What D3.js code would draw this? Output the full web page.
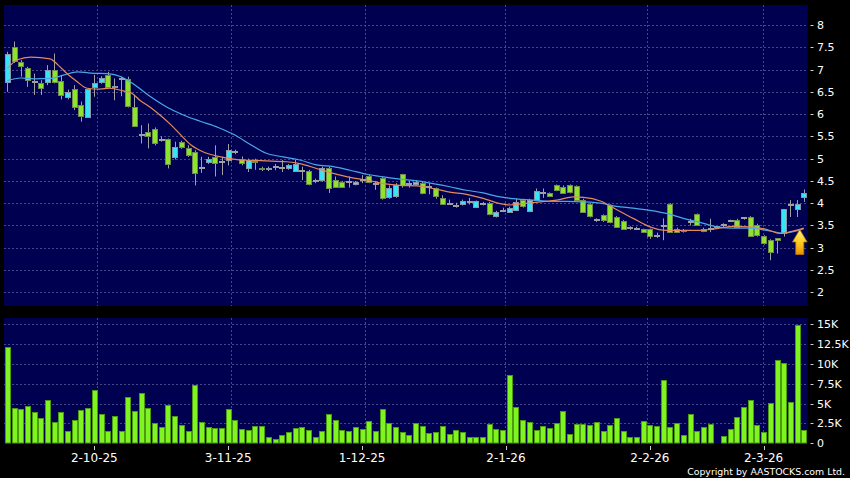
<!DOCTYPE html>
<html><head><meta charset="utf-8">
<script src="https://cdn.jsdelivr.net/npm/d3@7"></script>
<style>
html,body{margin:0;padding:0;background:#000;}
svg{display:block;}
text{font-family:"DejaVu Sans",sans-serif;fill:#fff;}
</style></head><body>
<svg id="c" width="850" height="478"></svg>
<script>
// ---- data ----
const opens  = [6.72,7.50,7.18,7.03,6.71,6.69,6.71,6.99,6.75,6.39,6.56,6.20,5.94,6.60,6.72,6.88,6.60,6.79,6.78,6.16,
5.53,5.60,5.66,5.42,5.43,5.03,5.38,5.25,5.14,4.78,4.93,5.04,4.93,4.98,5.14,5.00,4.80,4.95,4.79,4.76,
4.82,4.80,4.78,4.73,4.72,4.72,4.50,4.52,4.78,4.52,4.48,4.47,4.43,4.53,4.61,4.44,4.57,4.13,4.16,4.65,
4.42,4.43,4.46,4.37,4.33,4.11,3.99,3.94,3.98,4.03,3.92,3.99,4.01,3.71,3.83,3.80,3.84,4.08,3.83,4.08,
4.22,4.22,4.40,4.37,4.40,4.38,4.07,3.98,3.62,3.73,3.95,3.69,3.60,3.44,3.43,3.41,3.41,3.26,3.48,3.99,
3.43,3.40,3.58,3.75,3.43,3.43,3.46,3.50,3.61,3.63,3.66,3.69,3.52,3.26,3.17,3.21,3.32,3.96,3.88,4.13];
const highs  = [7.40,7.63,7.21,7.06,6.91,6.76,7.10,7.36,6.88,6.55,6.65,6.28,6.58,6.88,6.85,6.95,6.80,6.84,6.84,6.43,
5.75,5.79,5.70,5.50,5.45,5.38,5.40,5.30,5.19,5.04,5.04,5.30,5.04,5.33,5.20,5.05,5.00,5.00,4.82,4.82,
4.88,4.97,4.88,4.97,4.82,4.75,4.55,4.82,4.82,4.60,4.50,4.60,4.50,4.63,4.63,4.50,4.60,4.40,4.45,4.66,
4.50,4.52,4.48,4.45,4.35,4.18,4.08,4.01,4.08,4.12,4.06,4.03,4.03,3.83,3.90,3.92,4.10,4.10,4.10,4.33,
4.33,4.24,4.42,4.40,4.42,4.40,4.10,4.00,3.66,3.75,3.97,3.71,3.62,3.48,3.47,3.43,3.43,3.34,3.66,4.00,
3.45,3.42,3.65,3.77,3.45,3.65,3.48,3.55,3.63,3.65,3.68,3.71,3.54,3.28,3.19,3.22,3.87,4.07,4.07,4.31];
const lows   = [6.50,7.15,6.84,6.61,6.43,6.43,6.65,6.69,6.33,6.33,6.09,5.83,5.94,6.39,6.68,6.58,6.31,6.40,6.15,5.72,
5.34,5.23,5.30,5.38,4.78,4.98,5.22,5.04,4.40,4.68,4.88,4.60,4.63,4.85,5.10,4.85,4.70,4.75,4.72,4.72,
4.74,4.70,4.75,4.70,4.52,4.40,4.45,4.48,4.23,4.35,4.35,4.35,4.40,4.45,4.45,4.30,4.08,4.10,4.12,4.35,
4.35,4.40,4.20,4.20,4.10,3.96,3.96,3.90,3.95,3.97,3.90,3.95,3.73,3.68,3.80,3.78,3.82,3.90,3.80,4.05,
4.12,4.14,4.27,4.22,4.22,4.05,3.78,3.68,3.58,3.58,3.55,3.45,3.40,3.40,3.40,3.33,3.20,3.22,3.17,3.34,
3.33,3.34,3.50,3.50,3.35,3.35,3.44,3.45,3.58,3.45,3.63,3.24,3.25,3.07,2.72,2.87,3.25,3.69,3.69,4.03];
const closes = [7.34,7.20,7.08,6.76,6.71,6.59,6.99,6.73,6.43,6.50,6.15,5.96,6.56,6.70,6.82,6.60,6.64,6.79,6.18,5.74,
5.53,5.51,5.36,5.42,4.88,5.27,5.27,5.08,4.67,4.78,5.00,4.91,4.93,5.19,5.14,4.91,4.97,4.92,4.76,4.79,
4.82,4.80,4.85,4.88,4.72,4.42,4.50,4.79,4.35,4.37,4.37,4.47,4.48,4.53,4.48,4.44,4.11,4.35,4.40,4.40,
4.42,4.48,4.23,4.37,4.16,3.99,3.99,3.94,4.06,4.03,4.04,3.99,3.75,3.80,3.83,3.90,4.03,3.93,4.08,4.27,
4.22,4.16,4.29,4.24,4.25,4.07,3.80,3.71,3.62,3.62,3.57,3.47,3.43,3.44,3.43,3.36,3.26,3.26,3.48,3.36,
3.36,3.37,3.58,3.52,3.38,3.43,3.46,3.50,3.61,3.47,3.66,3.26,3.28,3.10,2.91,3.17,3.86,3.96,3.99,4.24];
// volume in thousands of shares
const volumes = [12.2,4.45,4.3,4.7,3.95,3.2,5.5,2.65,4.0,1.6,2.9,4.15,4.5,6.7,3.7,1.6,3.5,1.6,5.8,4.1,
6.4,4.45,2.6,2.0,4.8,3.4,2.35,1.5,7.4,2.65,2.05,1.9,1.9,4.3,2.9,1.75,1.65,2.15,2.15,0.8,
0.6,1.05,1.45,1.9,2.05,1.65,0.8,1.55,3.65,2.9,1.65,1.55,2.05,1.8,2.85,1.6,4.3,2.55,2.05,1.45,
1.1,2.5,2.2,1.35,1.45,2.2,1.2,1.7,1.4,0.8,0.8,0.8,2.45,1.8,1.7,8.6,4.6,3.0,2.7,1.7,
2.2,1.9,2.55,4.1,1.2,2.4,2.45,2.35,2.7,1.55,2.35,3.2,1.55,0.85,0.85,2.8,2.35,2.2,8.0,2.0,
2.6,1.0,3.7,1.55,2.05,2.45,0.1,0.9,1.75,3.3,4.6,5.5,2.3,1.4,5.1,10.5,10.1,5.15,14.9,1.65];
// moving averages: [candle index, value]
const maShort = [[0,7.02],[1.5,7.22],[3.5,7.28],[6.4,7.24],[7.6,7.10],[8.9,6.91],[10.4,6.73],[11.9,6.58],[13.8,6.56],[15.3,6.58],
[17.3,6.52],[18.6,6.47],[19.8,6.31],[21.3,6.16],[22.8,5.98],[24.3,5.78],[25.8,5.55],[27.5,5.30],[29.3,5.15],[31.5,5.05],
[34.3,4.98],[36.8,4.96],[38.7,4.95],[41.7,4.93],[43.7,4.89],[46.2,4.78],[48.7,4.67],[51.2,4.58],[53.7,4.52],[56.2,4.44],
[58.7,4.40],[61.2,4.39],[63.6,4.33],[66.1,4.25],[68.6,4.20],[71.1,4.11],[73.6,3.99],[75.1,3.96],[77.1,3.99],[79.6,4.03],
[82.1,4.07],[84.6,4.14],[86.1,4.13],[88.6,4.05],[91,3.86],[93.5,3.66],[96,3.47],[98.5,3.39],[101,3.39],[103.5,3.39],
[106,3.43],[108.5,3.48],[111,3.47],[113.5,3.41],[115.4,3.32],[117,3.36],[119,3.44]];
const maLong = [[0,6.75],[2,6.81],[4,6.79],[6.5,6.80],[8.5,6.88],[10.5,6.95],[12.5,6.92],[15,6.91],[17,6.84],[18.8,6.68],
[21.3,6.40],[23.8,6.16],[26.3,5.98],[28.8,5.84],[31.5,5.70],[34,5.53],[36.3,5.32],[38.7,5.12],[41.2,5.04],[43.7,4.97],
[46.2,4.86],[48.7,4.82],[51.2,4.74],[53.7,4.65],[56.2,4.59],[58.7,4.54],[61.2,4.50],[63.6,4.44],[66.1,4.37],[68.6,4.29],
[71.1,4.23],[73.6,4.14],[75.1,4.11],[78.6,4.07],[81.1,4.04],[83.6,4.04],[86.1,4.03],[88.6,4.00],[91,3.93],[93.5,3.89],
[96,3.84],[98.5,3.77],[101,3.66],[103.5,3.57],[106,3.47],[108.5,3.44],[111,3.44],[113.5,3.39],[116,3.33],[119,3.43]];
const priceTicks = [2,2.5,3,3.5,4,4.5,5,5.5,6,6.5,7,7.5,8];
const priceTickLabels = ["2","2.5","3","3.5","4","4.5","5","5.5","6","6.5","7","7.5","8"];
const volumeTicks = [0,2.5,5,7.5,10,12.5,15];
const volumeTickLabels = ["0","2.5K","5K","7.5K","10K","12.5K","15K"];
const dateTickIndex = [13,33,53,74.5,96,113];
const gridIndex = [13.4,33.4,53.5,74.4,95.6,112.9];
const dateTickLabels = ["2-10-25","3-11-25","1-12-25","2-1-26","2-2-26","2-3-26"];
const arrowMark = {i:118.4, top:3.41, bottom:2.85};
const copyright = "Copyright by AASTOCKS.com Ltd.";

// ---- layout ----
const W = 850, H = 478;
const panel = {left:4, right:807.7};
const pricePanel = {top:5, bottom:306};
const volPanel = {top:318, bottom:443.3};
const NAVY = "#000050", GRID = "#46468a";

const svg = d3.select("#c");
svg.append("rect").attr("width",W).attr("height",H).attr("fill","#000");

const x = d3.scaleLinear().domain([0, closes.length-1]).range([7.33, 803.8]);
const y = d3.scaleLinear().domain([2, 8]).range([292.3, 25]);
const yv = d3.scaleLinear().domain([0, 15]).range([volPanel.bottom, 324.3]);

// panels
svg.append("rect").attr("x",panel.left).attr("y",pricePanel.top).attr("width",panel.right-panel.left)
  .attr("height",pricePanel.bottom-pricePanel.top).attr("fill",NAVY);
svg.append("rect").attr("x",panel.left).attr("y",volPanel.top).attr("width",panel.right-panel.left)
  .attr("height",volPanel.bottom-volPanel.top).attr("fill",NAVY);

const crisp = v => Math.round(v) + 0.5;

// gridlines
const g = svg.append("g").attr("stroke",GRID).attr("stroke-width",1).attr("stroke-dasharray","2,2").attr("fill","none");
g.selectAll(".hp").data(priceTicks).enter().append("line")
  .attr("x1",panel.left).attr("x2",panel.right).attr("y1",d=>crisp(y(d))).attr("y2",d=>crisp(y(d)));
g.selectAll(".hv").data(volumeTicks.slice(1)).enter().append("line")
  .attr("x1",panel.left).attr("x2",panel.right).attr("y1",d=>crisp(yv(d))).attr("y2",d=>crisp(yv(d)));
g.selectAll(".vp").data(gridIndex).enter().append("line")
  .attr("x1",d=>crisp(x(d))).attr("x2",d=>crisp(x(d))).attr("y1",pricePanel.top).attr("y2",pricePanel.bottom);
g.selectAll(".vv").data(gridIndex).enter().append("line")
  .attr("x1",d=>crisp(x(d))).attr("x2",d=>crisp(x(d))).attr("y1",volPanel.top).attr("y2",volPanel.bottom);

// volume bars
svg.append("g").selectAll("rect").data(volumes).enter().append("rect")
  .attr("x",(d,i)=>Math.round(x(i)-2.5)+0.5)
  .attr("width",5)
  .attr("y",d=>Math.round(yv(d))+0.5)
  .attr("height",d=>Math.max(0, Math.round(volPanel.bottom) - Math.round(yv(d)) - 0.5))
  .attr("fill","#80f41e").attr("stroke","#4b9a14").attr("stroke-width",1);

// candles
const candles = closes.map((c,i)=>({i, o:opens[i], h:highs[i], l:lows[i], c}));
const isDoji = d => Math.abs(d.o-d.c) < 0.02;
const cg = svg.append("g");
cg.selectAll(".wick").data(candles).enter().append("line")
  .attr("x1",d=>crisp(x(d.i))).attr("x2",d=>crisp(x(d.i)))
  .attr("y1",d=>y(d.h)).attr("y2",d=>y(d.l))
  .attr("stroke","#a0a0a0").attr("stroke-width",1);
cg.selectAll(".body").data(candles).enter().append("rect")
  .attr("x",d=>Math.round(x(d.i)-2.5)+0.5)
  .attr("width",5)
  .attr("y",d=>{
    const top = Math.round(y(Math.max(d.o,d.c)));
    return top + 0.5 - (isDoji(d) ? 1 : 0);
  })
  .attr("height",d=>{
    if (isDoji(d)) return 1;
    return Math.max(1, Math.round(y(Math.min(d.o,d.c))) - Math.round(y(Math.max(d.o,d.c))));
  })
  .attr("fill",d=> isDoji(d) ? "#a0a0a0" : (d.c>d.o ? "#36e4f4" : "#8de42c"))
  .attr("stroke",d=> isDoji(d) ? "#a0a0a0" : (d.c>d.o ? "#8898a8" : "#6f8c4c"))
  .attr("stroke-width",1);

// moving averages
const line = d3.line().x(d=>x(d[0])).y(d=>y(d[1])).curve(d3.curveMonotoneX);
svg.append("path").attr("d",line(maLong)).attr("fill","none").attr("stroke","#48a8e8").attr("stroke-width",1.2);
svg.append("path").attr("d",line(maShort)).attr("fill","none").attr("stroke","#e4895a").attr("stroke-width",1.2);

// arrow marker
const defs = svg.append("defs");
const grad = defs.append("linearGradient").attr("id","ag").attr("x1",0).attr("y1",0).attr("x2",0).attr("y2",1);
grad.append("stop").attr("offset","0%").attr("stop-color","#fff27a");
grad.append("stop").attr("offset","55%").attr("stop-color","#ffc81e");
grad.append("stop").attr("offset","100%").attr("stop-color","#e89400");
{
  const ax = x(arrowMark.i), yt = y(arrowMark.top), yb = y(arrowMark.bottom);
  const hh = (yb-yt)*0.5, hw = 7.3, sw = 4;
  const p = d3.path();
  p.moveTo(ax, yt); p.lineTo(ax+hw, yt+hh); p.lineTo(ax+sw, yt+hh); p.lineTo(ax+sw, yb);
  p.lineTo(ax-sw, yb); p.lineTo(ax-sw, yt+hh); p.lineTo(ax-hw, yt+hh); p.closePath();
  svg.append("path").attr("d",p.toString()).attr("fill","url(#ag)").attr("stroke","#b87800").attr("stroke-width",0.8);
}

// right axes
const ax = svg.append("g");
ax.selectAll(".pt").data(priceTicks).enter().append("line")
  .attr("x1",810.5).attr("x2",813.5).attr("y1",d=>crisp(y(d))).attr("y2",d=>crisp(y(d)))
  .attr("stroke","#cfcfcf");
ax.selectAll(".pl").data(priceTicks).enter().append("text")
  .attr("x",817).attr("y",d=>y(d)+4).attr("font-size",11).text((d,i)=>priceTickLabels[i]);
ax.selectAll(".vt").data(volumeTicks).enter().append("line")
  .attr("x1",810.5).attr("x2",813.5).attr("y1",d=>crisp(yv(d))).attr("y2",d=>crisp(yv(d)))
  .attr("stroke","#cfcfcf");
ax.selectAll(".vl").data(volumeTicks).enter().append("text")
  .attr("x",817).attr("y",d=>yv(d)+4).attr("font-size",11).text((d,i)=>volumeTickLabels[i]);

// date axis
ax.selectAll(".dt").data(dateTickIndex).enter().append("line")
  .attr("x1",d=>crisp(x(d))).attr("x2",d=>crisp(x(d))).attr("y1",446).attr("y2",450)
  .attr("stroke","#cfcfcf");
ax.selectAll(".dl").data(dateTickIndex).enter().append("text")
  .attr("x",d=>x(d)).attr("y",462).attr("text-anchor","middle").attr("font-size",12)
  .text((d,i)=>dateTickLabels[i]);

svg.append("text").attr("x",845).attr("y",475).attr("text-anchor","end")
  .attr("font-family","Liberation Sans, Arial, sans-serif").attr("font-size",9.4).text(copyright);
</script>
</body></html>
